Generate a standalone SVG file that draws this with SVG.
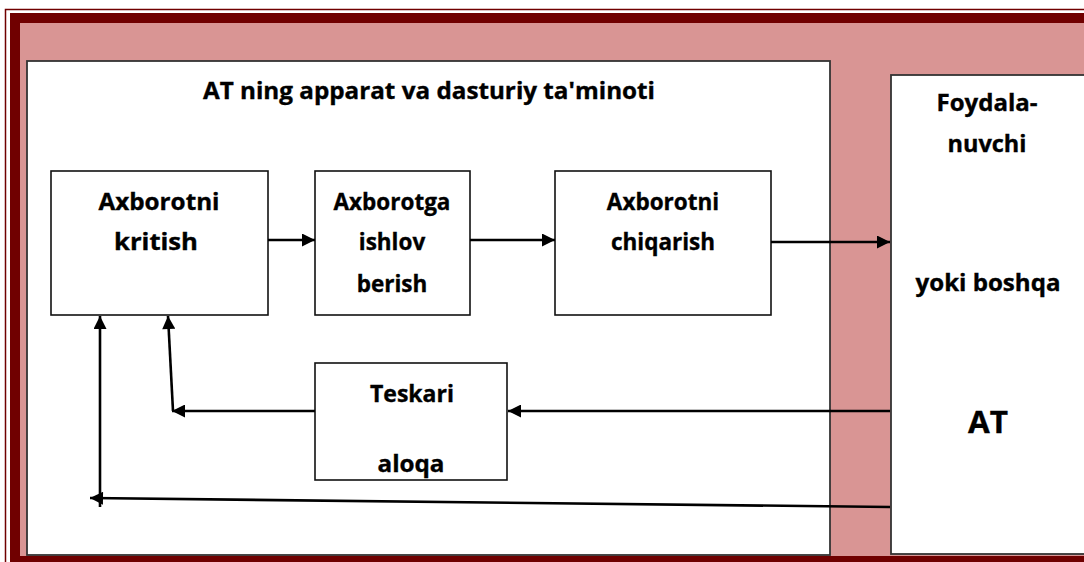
<svg xmlns="http://www.w3.org/2000/svg" width="1084" height="562" viewBox="0 0 1084 562">
<style>
  .lbl{font-family:"Open Sans","Liberation Sans",sans-serif;font-weight:700;font-size:22.5px;fill:#000;text-anchor:middle;stroke:#000;stroke-width:0.35}
  .box{fill:#fff;stroke:#111;stroke-width:1.6}
  .big{fill:#fff;stroke:#333;stroke-width:1.8}
  .con{fill:none;stroke:#000;stroke-width:2.6;marker-end:url(#ah)}
</style>
<defs>
  <marker id="ah" viewBox="0 0 10 10" refX="10" refY="5" markerUnits="userSpaceOnUse" markerWidth="15" markerHeight="13" orient="auto">
    <path d="M0,0 L10,5 L0,10 z" fill="#000"/>
  </marker>
  <clipPath id="tclip"><rect x="316" y="364" width="191" height="116"/></clipPath>
</defs>
<rect x="0" y="0" width="1084" height="562" fill="#fff"/>
<g id="frame">
  <rect x="5.5" y="9.5" width="1100" height="570" fill="none" stroke="#700000" stroke-width="1.5"/>
  <rect x="15" y="18" width="1090" height="543" fill="#d99594" stroke="#700000" stroke-width="10"/>
</g>
<g id="system">
  <rect class="big" x="27" y="61" width="803" height="494"/>
  <text class="lbl" x="429" y="99" textLength="452" lengthAdjust="spacingAndGlyphs">AT ning apparat va dasturiy ta'minoti</text>
</g>
<g id="user">
  <rect class="big" x="891" y="75" width="200" height="479"/>
  <text class="lbl" x="987" y="111" textLength="101" lengthAdjust="spacingAndGlyphs">Foydala-</text>
  <text class="lbl" x="987" y="152" textLength="79" lengthAdjust="spacingAndGlyphs">nuvchi</text>
  <text class="lbl" x="988" y="291" textLength="145" lengthAdjust="spacingAndGlyphs">yoki boshqa</text>
  <text class="lbl" x="988" y="433" style="font-size:30px" textLength="40" lengthAdjust="spacingAndGlyphs">AT</text>
</g>
<g id="input">
  <rect class="box" x="51" y="171" width="217" height="144"/>
  <text class="lbl" x="159" y="210" textLength="121" lengthAdjust="spacingAndGlyphs">Axborotni</text>
  <text class="lbl" x="156" y="250" textLength="84" lengthAdjust="spacingAndGlyphs">kritish</text>
</g>
<g id="process">
  <rect class="box" x="315" y="171" width="155" height="144"/>
  <text class="lbl" x="392" y="210">Axborotga</text>
  <text class="lbl" x="392" y="250">ishlov</text>
  <text class="lbl" x="392" y="292">berish</text>
</g>
<g id="output">
  <rect class="box" x="555" y="171" width="216" height="144"/>
  <text class="lbl" x="663" y="210">Axborotni</text>
  <text class="lbl" x="663" y="250">chiqarish</text>
</g>
<g id="feedback">
  <rect class="box" x="315" y="363" width="192" height="117"/>
  <text class="lbl" x="412" y="402" textLength="84" lengthAdjust="spacingAndGlyphs">Teskari</text>
  <g clip-path="url(#tclip)"><text class="lbl" x="411" y="472" textLength="67" lengthAdjust="spacingAndGlyphs">aloqa</text></g>
</g>
<g id="connectors">
  <path class="con" d="M268,240 L315,240"/>
  <path class="con" d="M470,240 L555,240"/>
  <path class="con" d="M771,242 L890,242"/>
  <path class="con" d="M890,411 L508,411"/>
  <path class="con" d="M315,411 L172,411"/>
  <path class="con" d="M173,411 L168,316"/>
  <path class="con" d="M890,507 L90,498"/>
  <path class="con" d="M100,507 L100,316"/>
</g>
</svg>
